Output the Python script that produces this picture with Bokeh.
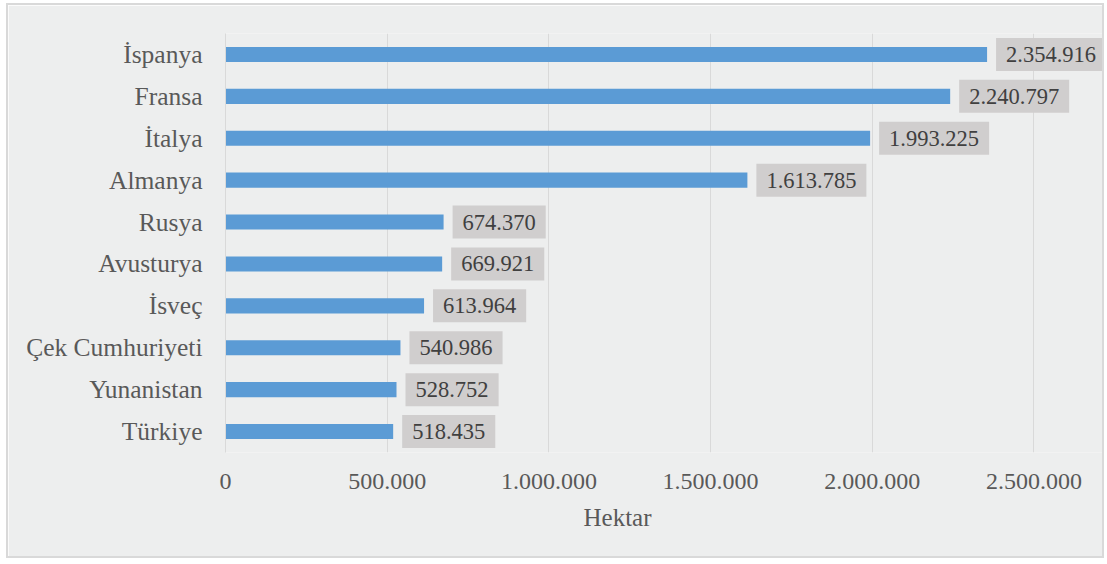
from bokeh.plotting import figure
from bokeh.models import ColumnDataSource, FixedTicker, Title, Range1d
from bokeh.core.properties import value
from bokeh.embed import file_html
from bokeh.resources import INLINE

countries = ["İspanya", "Fransa", "İtalya", "Almanya", "Rusya", "Avusturya",
             "İsveç", "Çek Cumhuriyeti", "Yunanistan", "Türkiye"]
hectares = [2354916, 2240797, 1993225, 1613785, 674370, 669921,
            613964, 540986, 528752, 518435]
tick_values = [0, 500000, 1000000, 1500000, 2000000, 2500000]
tick_labels = ["0", "500.000", "1.000.000", "1.500.000", "2.000.000", "2.500.000"]

def fmt(v):
    return f"{v:,}".replace(",", ".")

src = ColumnDataSource(dict(country=countries, value=hectares,
                            label=[fmt(v) for v in hectares]))

FONT = "Liberation Serif"
BG = "#EDEEEE"

p = figure(y_range=list(reversed(countries)), x_range=Range1d(0, 2718000),
           width=1098, height=555, output_backend="svg", toolbar_location=None,
           min_border_left=217, min_border_right=2, min_border_top=28,
           min_border_bottom=108)
p.styles = {"margin-left": "6px", "margin-top": "3px",
            "border": "2px solid #D9D9D9"}
p.background_fill_color = BG
p.border_fill_color = BG
p.outline_line_color = None

p.hbar(y="country", right="value", height=0.36, source=src,
       fill_color="#5B9BD5", line_color=None)

p.text(x="value", y="country", text="label", source=src,
       x_offset=9, anchor="center_left",
       text_font=value(FONT), text_font_size="22.5px", text_color="#404040",
       background_fill_color="#D0CECE",
       padding=dict(left=10, right=10, top=9, bottom=9))

p.xaxis.ticker = FixedTicker(ticks=tick_values)
p.xaxis.major_label_overrides = {v: t for v, t in zip(tick_values, tick_labels)}
p.xaxis.axis_line_color = None
p.xaxis.major_tick_line_color = None
p.xaxis.minor_tick_line_color = None
p.xaxis.major_label_standoff = 15
p.xaxis.major_label_text_font = FONT
p.xaxis.major_label_text_font_size = "24px"
p.xaxis.major_label_text_color = "#595959"

p.yaxis.axis_line_color = "#D9D9D9"
p.yaxis.major_tick_line_color = None
p.yaxis.minor_tick_line_color = None
p.yaxis.major_label_standoff = 17
p.yaxis.major_label_text_font = FONT
p.yaxis.major_label_text_font_size = "25.5px"
p.yaxis.major_label_text_color = "#595959"

p.xgrid.grid_line_color = "#D9D9D9"
p.xgrid.ticker = FixedTicker(ticks=tick_values)
p.ygrid.grid_line_color = None

t = Title(text="Hektar", align="left", offset=358, text_font=FONT,
          text_font_size="25px", text_font_style="normal",
          text_color="#595959", standoff=21)
p.add_layout(t, "below")

open("out.html", "w").write(file_html(p, INLINE))
